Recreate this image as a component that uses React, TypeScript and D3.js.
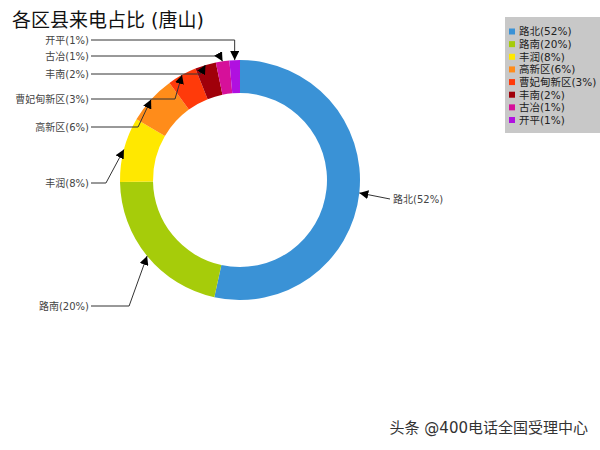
import { useEffect, useRef } from 'react'
import * as d3 from 'd3'

const names = ['路北', '路南', '丰润', '高新区', '曹妃甸新区', '丰南', '古冶', '开平']
const values = [52.9, 21.1, 8.6, 6.5, 3.9, 2.8, 1.8, 1.4]
const pctLabels = [52, 20, 8, 6, 3, 2, 1, 1]
const colors = ['#3a92d6', '#a6cc0a', '#ffe800', '#ff8c1a', '#ff3a0a', '#a0000a', '#d6109a', '#b010e0']

// label layout (y of each callout label, elbow offset of its leader)
const labelY = [199, 306, 183, 127, 99, 74, 56, 40]
const elbowDx = [0, -18, -18, -13, -7, -5, -3, 0]

const FONT = '"DejaVu Sans", "Noto Sans CJK SC", sans-serif'

export default function App() {
  const svgRef = useRef<SVGSVGElement>(null)

  useEffect(() => {
    if (!svgRef.current) return
    const svg = d3.select(svgRef.current)
    svg.selectAll('*').remove()

    const width = 600
    const height = 450
    svg.attr('width', width).attr('height', height)

    const cx = 240
    const cy = 180
    const rOuter = 120
    const rInner = 87

    const data = names.map((n, i) => ({ name: n, value: values[i], pct: pctLabels[i], color: colors[i], i }))

    const pie = d3.pie<typeof data[0]>()
      .sort(null)
      .value(d => d.value)
      .startAngle(0)
      .endAngle(2 * Math.PI)

    const arc = d3.arc<d3.PieArcDatum<typeof data[0]>>()
      .innerRadius(rInner)
      .outerRadius(rOuter)

    const arcs = pie(data)

    svg.append('defs').append('marker')
      .attr('id', 'arrow')
      .attr('viewBox', '0 0 10 10')
      .attr('refX', 10)
      .attr('refY', 5)
      .attr('markerWidth', 9)
      .attr('markerHeight', 9)
      .attr('markerUnits', 'userSpaceOnUse')
      .attr('orient', 'auto')
      .append('path')
      .attr('d', 'M0,0 L10,5 L0,10 Z')
      .attr('fill', '#000')

    // Title
    svg.append('text')
      .attr('x', 12)
      .attr('y', 27)
      .style('font-family', FONT)
      .style('font-size', '19px')
      .attr('fill', '#111')
      .text('各区县来电占比 (唐山)')

    // Donut
    const g = svg.append('g').attr('transform', `translate(${cx},${cy})`)
    g.selectAll('path.slice')
      .data(arcs)
      .enter().append('path')
      .attr('class', 'slice')
      .attr('d', arc)
      .attr('fill', d => d.data.color)

    // Callouts
    arcs.forEach((a, i) => {
      const mid = (a.startAngle + a.endAngle) / 2
      const tx = cx + rOuter * Math.sin(mid)
      const ty = cy - rOuter * Math.cos(mid)
      const ly = labelY[i]
      const label = `${a.data.name}(${a.data.pct}%)`
      const right = Math.sin(mid) > 0
      let pts: [number, number][]
      if (right) {
        pts = [[390, ly], [tx, ty]]
        svg.append('text')
          .attr('x', 393)
          .attr('y', ly + 3.5)
          .style('font-family', FONT)
          .style('font-size', '10px')
          .attr('fill', '#444')
          .text(label)
      } else {
        const ex = tx + elbowDx[i]
        pts = [[91, ly], [ex, ly], [tx, ty]]
        svg.append('text')
          .attr('x', 89)
          .attr('y', ly + 3.5)
          .attr('text-anchor', 'end')
          .style('font-family', FONT)
          .style('font-size', '10px')
          .attr('fill', '#444')
          .text(label)
      }
      svg.append('path')
        .attr('d', d3.line()(pts))
        .attr('fill', 'none')
        .attr('stroke', '#333')
        .attr('stroke-width', 1)
        .attr('marker-end', 'url(#arrow)')
    })

    // Legend
    const legend = svg.append('g')
    legend.append('rect')
      .attr('x', 505)
      .attr('y', 17)
      .attr('width', 95)
      .attr('height', 116)
      .attr('fill', '#c8c8c8')
    const itemY = d3.scaleLinear().domain([0, names.length - 1]).range([31.5, 120])
    data.forEach((d, i) => {
      const y = itemY(i)
      legend.append('rect')
        .attr('x', 509)
        .attr('y', y - 3)
        .attr('width', 6)
        .attr('height', 6)
        .attr('fill', d.color)
      legend.append('text')
        .attr('x', 519)
        .attr('y', y + 3.8)
        .style('font-family', FONT)
        .style('font-size', '10.5px')
        .attr('fill', '#222')
        .text(`${d.name}(${d.pct}%)`)
    })

    // Watermark
    svg.append('text')
      .attr('x', 588)
      .attr('y', 433)
      .attr('text-anchor', 'end')
      .style('font-family', FONT)
      .style('font-size', '15px')
      .attr('fill', '#333')
      .text('头条 @400电话全国受理中心')
  }, [])

  return (
    <svg
      ref={svgRef}
      style={{ position: 'absolute', left: 0, top: 0, background: '#fff' }}
    />
  )
}
